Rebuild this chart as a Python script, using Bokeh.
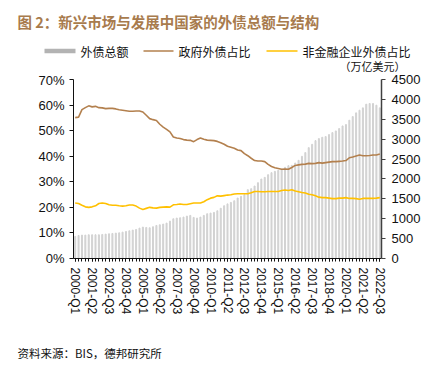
from bokeh.plotting import figure
from bokeh.layouts import column, row
from bokeh.models import (Range1d, LinearAxis, FixedTicker, PrintfTickFormatter,
                          ColumnDataSource, Spacer)
from bokeh.core.properties import value
from bokeh.embed import file_html
from bokeh.resources import INLINE

years = list(range(2000, 2023))
quarters = [f"{y}-Q{q}" for y in years for q in (1, 2, 3, 4)][:91]

gov_share = [55.1, 55.3, 58.2, 59.0, 59.7, 59.3, 59.5, 59.0, 58.9, 58.6,
             58.7, 58.7, 58.5, 58.2, 58.0, 57.8, 57.6, 57.6, 57.7, 57.7,
             57.3, 56.0, 54.7, 54.3, 54.0, 52.5, 51.4, 50.5, 49.5, 47.5,
             47.1, 46.9, 46.5, 46.3, 46.2, 45.7, 46.5, 47.1, 46.6, 46.3,
             46.2, 46.1, 45.8, 45.3, 44.7, 43.9, 43.5, 43.1, 42.4, 42.2,
             41.0, 40.2, 39.2, 38.3, 38.1, 38.1, 37.9, 36.8, 36.0, 35.5,
             35.2, 34.9, 35.0, 34.9, 35.6, 36.4, 36.6, 36.8, 36.9, 37.2,
             37.1, 37.2, 37.5, 37.3, 37.5, 37.7, 37.9, 37.9, 38.0, 38.1,
             38.3, 39.4, 39.7, 40.1, 40.5, 40.2, 40.2, 40.3, 40.5, 40.5,
             40.9]

corp_share = [21.7, 21.5, 20.8, 20.2, 20.0, 20.2, 20.6, 21.5, 21.7, 21.5,
              21.0, 20.8, 20.8, 20.6, 20.5, 20.6, 20.9, 20.9, 20.5, 19.7,
              19.2, 19.6, 20.0, 19.8, 19.7, 20.0, 20.1, 20.2, 20.1, 21.0,
              21.1, 21.3, 21.1, 21.1, 21.4, 21.7, 21.7, 21.7, 22.2, 23.0,
              23.6, 23.9, 24.5, 24.4, 24.6, 24.8, 24.9, 25.2, 25.3, 25.3,
              25.3, 25.3, 25.7, 26.2, 26.2, 26.1, 26.1, 26.2, 26.2, 26.2,
              26.2, 26.6, 26.8, 26.6, 26.9, 26.4, 26.1, 25.8, 25.6, 25.1,
              24.9, 24.5, 24.0, 23.8, 23.8, 23.6, 23.4, 23.4, 23.6, 23.6,
              23.8, 23.5, 23.5, 23.4, 23.2, 23.5, 23.5, 23.5, 23.5, 23.6,
              23.8]

total_debt = [554, 579, 588, 588, 596, 596, 596, 596, 605, 613,
              621, 630, 638, 646, 663, 680, 697, 714, 730, 764,
              789, 781, 772, 798, 831, 848, 865, 890, 940, 999,
              1016, 1024, 1041, 1066, 1083, 1033, 1016, 1041, 1083, 1125,
              1142, 1159, 1200, 1263, 1326, 1373, 1410, 1452, 1520, 1562,
              1604, 1730, 1755, 1822, 1906, 1998, 2040, 2107, 2158, 2191,
              2216, 2242, 2292, 2334, 2342, 2401, 2468, 2569, 2662, 2787,
              2871, 2964, 3014, 3048, 3065, 3115, 3165, 3207, 3266, 3333,
              3367, 3476, 3568, 3661, 3728, 3787, 3879, 3896, 3896, 3854,
              3787]

left_ticks = [0, 10, 20, 30, 40, 50, 60, 70]
right_ticks = [0, 500, 1000, 1500, 2000, 2500, 3000, 3500, 4000, 4500]

title_text = "图 2：新兴市场与发展中国家的外债总额与结构"
legend_labels = ["外债总额", "政府外债占比", "非金融企业外债占比"]
unit_text = "（万亿美元）"
source_text = "资料来源：BIS，德邦研究所"

BROWN = "#b3804e"
TITLE_BROWN = "#a87b4d"
YELLOW = "#ffc000"
GRAY = "#d2d2d2"
LEG_GRAY = "#b3b3b3"
FONT = "Liberation Sans"
CJK = "Noto Sans CJK SC"

W = 441
FL, FR, FT, FB = 73, 381, 79, 258   # plot frame edges in page pixels
MAIN_TOP, MAIN_BOTTOM = 72, 325
RULE_X0, RULE_X1 = 16, 427


def strip(y0, y1):
    """A figure whose frame covers its whole canvas, in page-pixel coordinates."""
    f = figure(width=W, height=y1 - y0, output_backend="svg", toolbar_location=None,
               x_range=Range1d(0, W), y_range=Range1d(y1, y0),
               x_axis_location=None, y_axis_location=None,
               min_border=0, min_border_left=0, min_border_right=0,
               min_border_top=0, min_border_bottom=0)
    f.outline_line_color = None
    f.grid.visible = False
    f.background_fill_color = "white"
    f.border_fill_color = "white"
    return f


def rule_row(thick):
    """A brown horizontal rule: a thin figure filled with the rule colour."""
    f = figure(width=RULE_X1 - RULE_X0, height=thick, output_backend="svg",
               toolbar_location=None, x_axis_location=None, y_axis_location=None,
               x_range=Range1d(0, 1), y_range=Range1d(0, 1),
               min_border=0, min_border_left=0, min_border_right=0,
               min_border_top=0, min_border_bottom=0)
    f.outline_line_color = None
    f.grid.visible = False
    f.background_fill_color = BROWN
    f.border_fill_color = BROWN
    return row(Spacer(width=RULE_X0, height=thick), f,
               Spacer(width=W - RULE_X1, height=thick), spacing=0)


def txt(f, x, y, text, size="12px", color="#111111", font=CJK, style="normal"):
    f.text(x=[x], y=[y], text=[text], text_font=value(font), text_font_size=value(size),
           text_color=color, text_font_style=style, text_align="left", text_baseline="middle")


def sample(f, x0, x1, y, color, thick):
    f.segment(x0=[x0], y0=[y], x1=[x1], y1=[y], line_color=color, line_width=thick)


# ---------- header ----------
head1 = strip(0, 34)
txt(head1, 17, 20.5, title_text, size="14.5px", color=TITLE_BROWN, style="bold")

head2 = strip(36, MAIN_TOP)
sample(head2, 44, 75, 50.5, LEG_GRAY, 4.5)
txt(head2, 80, 50.5, legend_labels[0])
sample(head2, 143, 173, 50.5, BROWN, 1.6)
txt(head2, 178, 50.5, legend_labels[1])
sample(head2, 266, 297, 50.5, YELLOW, 1.6)
txt(head2, 302, 50.5, legend_labels[2])
txt(head2, 339, 65, unit_text, size="11px")

# ---------- main chart ----------
idx = list(range(len(quarters)))
src = ColumnDataSource(dict(x=idx, q=quarters, gov=gov_share, corp=corp_share, debt=total_debt))

p = figure(width=W, height=MAIN_BOTTOM - MAIN_TOP, output_backend="svg", toolbar_location=None,
           x_range=Range1d(-0.5, len(quarters) - 0.5), y_range=Range1d(0, 70),
           min_border_left=FL, min_border_right=W - FR,
           min_border_top=FT - MAIN_TOP, min_border_bottom=MAIN_BOTTOM - FB)
p.outline_line_color = None
p.grid.visible = False
p.background_fill_color = "white"
p.border_fill_color = "white"

p.extra_y_ranges = {"debt": Range1d(0, 4500)}

p.vbar(x="x", top="debt", width=0.3, color=GRAY, source=src, y_range_name="debt")
p.line(x="x", y="gov", color=BROWN, line_width=1.6, source=src)
p.line(x="x", y="corp", color=YELLOW, line_width=1.6, source=src)

xa = p.xaxis[0]
major = idx[::5]
xa.ticker = FixedTicker(ticks=major, minor_ticks=idx)
xa.major_label_overrides = {i: quarters[i] for i in major}
xa.major_label_orientation = "vertical"
xa.major_label_text_font = FONT
xa.major_label_text_font_size = "12px"
xa.major_label_text_color = "#111111"
xa.axis_line_color = "#111111"
xa.major_tick_line_color = "#111111"
xa.minor_tick_line_color = "#111111"
xa.major_tick_out = 3
xa.major_tick_in = 0
xa.minor_tick_out = 3
xa.minor_tick_in = 0
xa.major_label_standoff = 6

ya = p.yaxis[0]
ya.ticker = FixedTicker(ticks=left_ticks)
ya.formatter = PrintfTickFormatter(format="%d%%")
ya.major_label_text_font = FONT
ya.major_label_text_font_size = "13px"
ya.major_label_text_color = "#111111"
ya.axis_line_color = "#111111"
ya.major_tick_line_color = "#111111"
ya.major_tick_out = 4
ya.major_tick_in = 0
ya.minor_tick_line_color = None
ya.major_label_standoff = 5

ra = LinearAxis(y_range_name="debt", ticker=FixedTicker(ticks=right_ticks))
ra.major_label_text_font = FONT
ra.major_label_text_font_size = "13px"
ra.major_label_text_color = "#111111"
ra.axis_line_color = "#404040"
ra.axis_line_width = 1.5
ra.major_tick_line_color = "#404040"
ra.major_tick_out = 4
ra.major_tick_in = 0
ra.minor_tick_line_color = None
ra.major_label_standoff = 6
p.add_layout(ra, "right")

# ---------- footer ----------
foot = strip(336, 377)
txt(foot, 17, 352.5, source_text, size="11.5px")

layout = column(row(head1), rule_row(2), row(head2), row(p),
                Spacer(width=W, height=334 - MAIN_BOTTOM), rule_row(2), row(foot),
                spacing=0)
open("out.html", "w").write(file_html(layout, INLINE))
